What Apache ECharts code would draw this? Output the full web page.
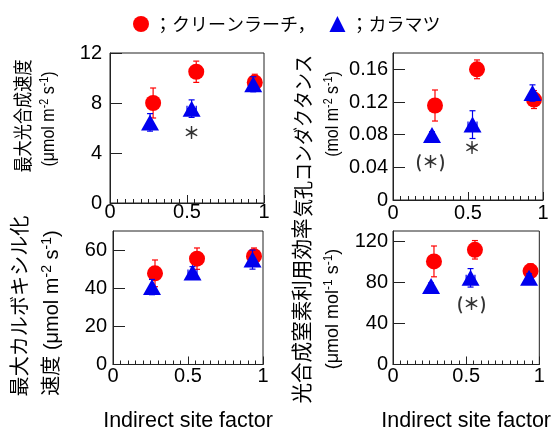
<!DOCTYPE html>
<html><head><meta charset="utf-8">
<script src="https://cdn.jsdelivr.net/npm/echarts@6/dist/echarts.min.js"></script>
<style>html,body{margin:0;padding:0;background:#fff}#c{width:553px;height:433px}</style>
</head><body><div id="c"></div>
<script>
// ---- data ----
const larchX = [0.28, 0.56, 0.94];
const larchXErr = [0.01, 0.02, 0.01];
const karaX = [0.26, 0.53, 0.93];
const karaXErr = [0.01, 0.03, 0.01];

const amaxLarch = [8.0, 10.5, 9.65];
const amaxLarchErr = [1.2, 0.85, 0.65];
const amaxKara = [6.45, 7.55, 9.5];
const amaxKaraErr = [0.7, 0.7, 0.6];

const gsLarch = [0.1157, 0.16, 0.123];
const gsLarchErr = [0.019, 0.0115, 0.011];
const gsKara = [0.0796, 0.0923, 0.131];
const gsKaraErr = [0.004, 0.017, 0.01];

const vcmaxLarch = [47.8, 55.5, 56.8];
const vcmaxLarchErr = [7, 5.6, 4.3];
const vcmaxKara = [40.6, 48.3, 55];
const vcmaxKaraErr = [4, 3, 5];

const pnueLarch = [100.4, 111.7, 91];
const pnueLarchErr = [15, 9, 7];
const pnueKara = [76.4, 84.4, 84.4];
const pnueKaraErr = [3, 9, 4];

const yMax = [12, 0.18, 70, 130];
const yInterval = [4, 0.04, 20, 40];
const xTickLabels = ['0', '0.5', '1'];

const notes = [
  [[0.53, 5.6, '＊']],
  [[0.25, 0.047, '(＊)'], [0.527, 0.064, '＊']],
  [],
  [[0.537, 59, '(＊)']]
];

const legendNames = ['クリーンラーチ', 'カラマツ'];
const legendTexts = ['；クリーンラーチ，', '；カラマツ'];

// ---- styling ----
const LAT = "'Liberation Sans', Arial, 'Noto Sans CJK JP', sans-serif";
const CJK = "'Noto Sans CJK JP', 'Liberation Sans', sans-serif";
const RED = '#ff0000', BLUE = '#0000ee', AX = '#222';

const grids = [
  {left: 110, top: 53, width: 154, height: 150},
  {left: 393, top: 53, width: 150, height: 147},
  {left: 113, top: 231, width: 150, height: 146},
  {left: 393, top: 231, width: 150, height: 146}
];
const yLabelMargin = [8, 5, 6, 5];
const xLabelMargin = [-1, 3, 2, 2];

function pts(xs, ys, xe, ye) { return xs.map((x, i) => [x, ys[i], xe[i], ye[i]]); }

function errRender(color) {
  return function (params, api) {
    const x = api.value(0), y = api.value(1), xe = api.value(2), ye = api.value(3);
    const c = api.coord([x, y]);
    const t = api.coord([x, y + ye]), b = api.coord([x, y - ye]);
    const l = api.coord([x - xe, y]), r = api.coord([x + xe, y]);
    const cap = 3;
    const st = {stroke: color, lineWidth: 1.2};
    const ch = [
      {type: 'line', shape: {x1: c[0], y1: t[1], x2: c[0], y2: b[1]}, style: st},
      {type: 'line', shape: {x1: c[0] - cap, y1: t[1], x2: c[0] + cap, y2: t[1]}, style: st},
      {type: 'line', shape: {x1: c[0] - cap, y1: b[1], x2: c[0] + cap, y2: b[1]}, style: st},
      {type: 'line', shape: {x1: l[0], y1: c[1], x2: r[0], y2: c[1]}, style: st},
      {type: 'line', shape: {x1: l[0], y1: c[1] - cap, x2: l[0], y2: c[1] + cap}, style: st},
      {type: 'line', shape: {x1: r[0], y1: c[1] - cap, x2: r[0], y2: c[1] + cap}, style: st}
    ];
    return {type: 'group', children: ch};
  };
}

const panelData = [
  [amaxLarch, amaxLarchErr, amaxKara, amaxKaraErr],
  [gsLarch, gsLarchErr, gsKara, gsKaraErr],
  [vcmaxLarch, vcmaxLarchErr, vcmaxKara, vcmaxKaraErr],
  [pnueLarch, pnueLarchErr, pnueKara, pnueKaraErr]
];

const xAxes = [], yAxes = [], series = [];
grids.forEach((g, i) => {
  xAxes.push({
    gridIndex: i, type: 'value', min: 0, max: 1, interval: 0.5,
    axisLine: {lineStyle: {color: AX, width: 1}},
    axisTick: {inside: true, length: 8, lineStyle: {color: AX}},
    minorTick: {show: true, splitNumber: 10, length: 4, lineStyle: {color: AX}},
    splitLine: {show: false},
    axisLabel: {fontSize: 20, color: '#000', fontFamily: LAT, margin: xLabelMargin[i],
      formatter: v => xTickLabels[Math.round(v * 2)] || ''},
    name: i >= 2 ? 'Indirect site factor' : '',
    nameLocation: 'middle', nameGap: 46,
    nameTextStyle: {fontSize: 21.5, color: '#000', fontFamily: LAT}
  });
  yAxes.push({
    gridIndex: i, type: 'value', min: 0, max: yMax[i], interval: yInterval[i],
    axisLine: {show: true, lineStyle: {color: AX, width: 1}},
    axisTick: {show: true, inside: true, length: 12, lineStyle: {color: AX}},
    splitLine: {show: false},
    axisLabel: {fontSize: 20, color: '#000', fontFamily: LAT, margin: yLabelMargin[i],
      showMaxLabel: i === 0}
  });
  const d = panelData[i];
  series.push({type: 'custom', xAxisIndex: i, yAxisIndex: i, renderItem: errRender(RED),
    encode: {x: 0, y: 1}, data: pts(larchX, d[0], larchXErr, d[1]), z: 2, silent: true});
  series.push({type: 'scatter', name: legendNames[0], xAxisIndex: i, yAxisIndex: i,
    symbol: 'circle', symbolSize: 16, itemStyle: {color: RED, opacity: 1},
    data: larchX.map((x, k) => [x, d[0][k]]), z: 3});
  series.push({type: 'custom', xAxisIndex: i, yAxisIndex: i, renderItem: errRender(BLUE),
    encode: {x: 0, y: 1}, data: pts(karaX, d[2], karaXErr, d[3]), z: 4, silent: true});
  series.push({type: 'scatter', name: legendNames[1], xAxisIndex: i, yAxisIndex: i,
    symbol: 'triangle', symbolSize: [18, 16], itemStyle: {color: BLUE, opacity: 1},
    data: karaX.map((x, k) => [x, d[2][k]]), z: 5});
  if (notes[i].length) {
    series.push({type: 'scatter', xAxisIndex: i, yAxisIndex: i, symbolSize: 0,
      data: notes[i], z: 6, silent: true,
      label: {show: true, position: 'inside', color: '#000', fontSize: 17, fontWeight: 'bold',
        fontFamily: CJK, formatter: p => p.value[2]}});
  }
});

function yTitle(x, y, fs, sx, parts) {
  return {type: 'text', x: x, y: y, rotation: Math.PI / 2, scaleX: sx, scaleY: 1,
    style: {text: parts, align: 'center', verticalAlign: 'middle', fill: '#000',
      rich: {
        n: {fontSize: fs, fontFamily: LAT, fill: '#000'},
        s: {fontSize: Math.round(fs * 0.68), fontFamily: LAT, fill: '#000', padding: [0, 0, Math.round(fs * 0.45), 0]}
      }}};
}
const graphics = [
  yTitle(25, 116, 19, 0.85, '{n|最大光合成速度}'),
  yTitle(49, 119, 18, 0.89, '{n|(μmol m}{s|-2}{n| s}{s|-1}{n|)}'),
  yTitle(305, 136, 20, 0.9, '{n|気孔コンダクタンス}'),
  yTitle(333, 114, 18, 0.89, '{n|(mol m}{s|-2}{n| s}{s|-1}{n|)}'),
  yTitle(21, 306, 20.5, 0.98, '{n|最大カルボキシル化}'),
  yTitle(52, 313, 20, 1, '{n|速度 (μmol m}{s|-2}{n| s}{s|-1}{n|)}'),
  yTitle(303, 311, 21, 0.98, '{n|光合成窒素利用効率}'),
  yTitle(333, 309, 18, 1, '{n|(μmol mol}{s|-1}{n| s}{s|-1}{n|)}')
];

const chart = echarts.init(document.getElementById('c'), null, {renderer: 'canvas'});
chart.setOption({
  animation: false,
  backgroundColor: '#fff',
  grid: grids.map(g => Object.assign({show: true, borderColor: AX, borderWidth: 1, backgroundColor: 'transparent'}, g)),
  xAxis: xAxes,
  yAxis: yAxes,
  legend: {
    left: 133, top: 15, padding: 0, itemWidth: 16, itemHeight: 16, itemGap: 14,
    data: [{name: legendNames[0], icon: 'circle'}, {name: legendNames[1], icon: 'triangle'}],
    formatter: n => legendTexts[legendNames.indexOf(n)],
    textStyle: {fontSize: 18, color: '#000', fontFamily: CJK},
    selectedMode: false
  },
  graphic: graphics,
  series: series
});
</script></body></html>
